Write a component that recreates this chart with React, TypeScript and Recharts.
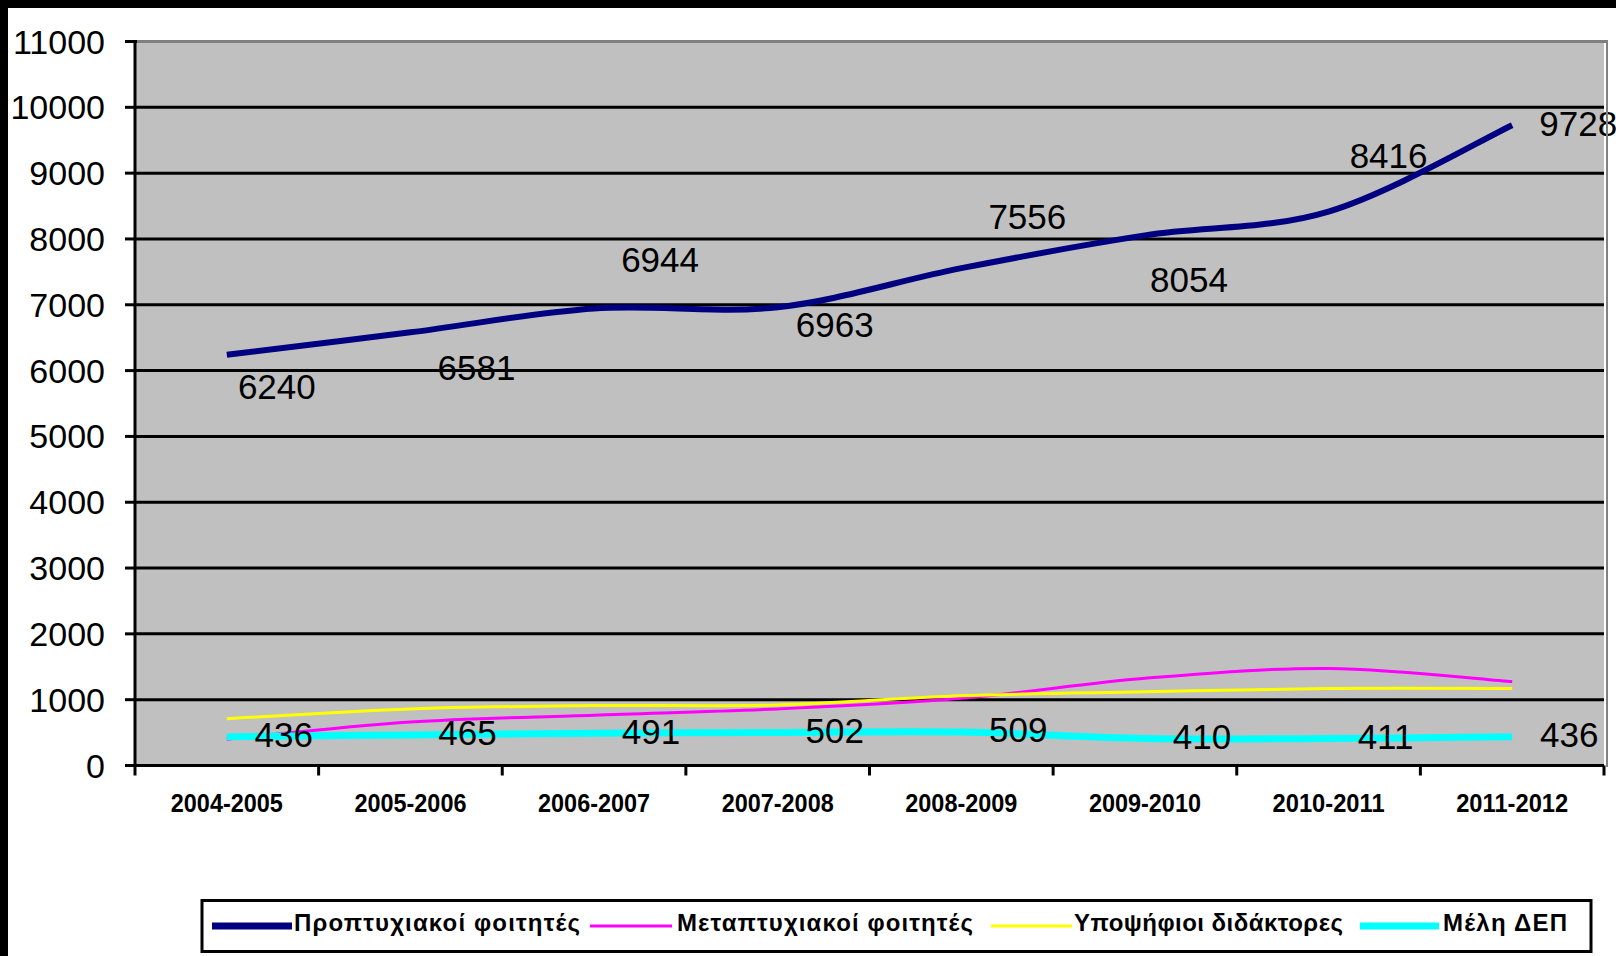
import React from 'react';
import { LineChart, Line, XAxis, YAxis, CartesianGrid, LabelList } from 'recharts';

// academic years on the category axis
const years = ['2004-2005', '2005-2006', '2006-2007', '2007-2008', '2008-2009', '2009-2010', '2010-2011', '2011-2012'];

// series values (undergrad + faculty read from the labels, the other two estimated from the lines)
const undergrad = [6240, 6581, 6944, 6963, 7556, 8054, 8416, 9728];
const postgrad = [400, 660, 765, 860, 1020, 1325, 1475, 1275];
const phdCandidates = [710, 860, 910, 920, 1060, 1120, 1170, 1170];
const faculty = [436, 465, 491, 502, 509, 410, 411, 436];

const yTicks = [0, 1000, 2000, 3000, 4000, 5000, 6000, 7000, 8000, 9000, 10000, 11000];

const seriesNames = ['Προπτυχιακοί φοιτητές', 'Μεταπτυχιακοί φοιτητές', 'Υποψήφιοι διδάκτορες', 'Μέλη ΔΕΠ'];

const data = years.map((year, i) => ({
  year,
  undergrad: undergrad[i],
  postgrad: postgrad[i],
  phd: phdCandidates[i],
  faculty: faculty[i],
}));

const FONT = '"Liberation Sans", Arial, sans-serif';
const W = 1616;
const H = 956;
const PLOT_LEFT = 135;
const PLOT_RIGHT = 1604;
const PLOT_TOP = 41.5;
const PLOT_BOTTOM = 765.5;
const BAND = (PLOT_RIGHT - PLOT_LEFT) / years.length;

// Excel-style smoothing (Catmull-Rom through every point), used as a d3 curve factory
function excelSmooth(context: any) {
  let pts: number[][] = [];
  return {
    areaStart() {},
    areaEnd() {},
    lineStart() { pts = []; },
    point(x: number, y: number) { pts.push([+x, +y]); },
    lineEnd() {
      if (!pts.length) return;
      context.moveTo(pts[0][0], pts[0][1]);
      for (let i = 0; i < pts.length - 1; i++) {
        const p0 = pts[i - 1] || pts[i];
        const p1 = pts[i];
        const p2 = pts[i + 1];
        const p3 = pts[i + 2] || p2;
        context.bezierCurveTo(
          p1[0] + (p2[0] - p0[0]) / 6, p1[1] + (p2[1] - p0[1]) / 6,
          p2[0] - (p3[0] - p1[0]) / 6, p2[1] - (p3[1] - p1[1]) / 6,
          p2[0], p2[1],
        );
      }
    },
  };
}

// where each undergrad label sits relative to its point (Excel put them around oddly)
const NAVY_LABEL_OFFSETS = [
  [50, 32], [66, 35], [66, -49], [57, 17], [66, -52], [44, 44], [60, -56], [66, -2],
];

const NavyLabel = (props: any) => {
  const { x, y, value, index } = props;
  const [dx, dy] = NAVY_LABEL_OFFSETS[index] || [60, 0];
  return (
    <text x={x + dx} y={y + dy} textAnchor="middle" dominantBaseline="central"
      fontSize={35} fill="#000" fontFamily={FONT}>
      {value}
    </text>
  );
};

const CyanLabel = (props: any) => {
  const { x, y, value } = props;
  return (
    <text x={x + 57} y={y - 2} textAnchor="middle" dominantBaseline="central"
      fontSize={35} fill="#000" fontFamily={FONT}>
      {value}
    </text>
  );
};

// tick marks sit between categories, labels at the centre
const XTick = (props: any) => {
  const { x, payload, index } = props;
  const edge = x + BAND / 2;
  return (
    <g>
      {index === 0 && (
        <line x1={x - BAND / 2} x2={x - BAND / 2} y1={PLOT_BOTTOM} y2={PLOT_BOTTOM + 10} stroke="#000" strokeWidth={3} />
      )}
      <line x1={edge} x2={edge} y1={PLOT_BOTTOM} y2={PLOT_BOTTOM + 10} stroke="#000" strokeWidth={3} />
      <text x={x} y={PLOT_BOTTOM + 46} textAnchor="middle" fontSize={26} fontWeight="bold"
        fill="#000" fontFamily={FONT} textLength={112} lengthAdjust="spacingAndGlyphs">
        {payload.value}
      </text>
    </g>
  );
};

const legendItems = [
  { name: seriesNames[0], color: '#000080', width: 7, x1: 212, x2: 292, tx: 294, tl: 286 },
  { name: seriesNames[1], color: '#FF00FF', width: 3, x1: 590, x2: 672, tx: 677, tl: 296 },
  { name: seriesNames[2], color: '#FFFF00', width: 3, x1: 991, x2: 1072, tx: 1074, tl: 269 },
  { name: seriesNames[3], color: '#00FFFF', width: 7, x1: 1360, x2: 1439, tx: 1443, tl: 124 },
];

function LegendBox() {
  return (
    <svg width={W} height={H} style={{ position: 'absolute', left: 0, top: 0, pointerEvents: 'none' }}>
      <rect x={202} y={900.5} width={1389} height={51} fill="#fff" stroke="#000" strokeWidth={3} />
      {legendItems.map(item => (
        <g key={item.name}>
          <line x1={item.x1} x2={item.x2} y1={926} y2={926} stroke={item.color} strokeWidth={item.width} />
          <text x={item.tx} y={931} fontSize={24} fontWeight="bold" fill="#000" fontFamily={FONT}
            textLength={item.tl} lengthAdjust="spacing">
            {item.name}
          </text>
        </g>
      ))}
    </svg>
  );
}

export default function App() {
  return (
    <div style={{ position: 'absolute', left: 0, top: 0, width: W, height: H, background: '#fff', overflow: 'hidden' }}>
      <LineChart width={W} height={H} data={data}
        margin={{ top: PLOT_TOP, right: W - PLOT_RIGHT, left: 0, bottom: H - PLOT_BOTTOM - 60 }}>
        <CartesianGrid vertical={false} horizontal fill="#C0C0C0" stroke="#000" strokeWidth={3} />
        <XAxis dataKey="year" scale="band" height={60} axisLine={{ stroke: '#000', strokeWidth: 3 }}
          tickLine={false} tick={<XTick />} interval={0} />
        <YAxis width={PLOT_LEFT} domain={[0, 11000]} ticks={yTicks} interval={0}
          axisLine={{ stroke: '#000', strokeWidth: 3 }} tickLine={{ stroke: '#000', strokeWidth: 3 }}
          tickSize={10} tickMargin={20}
          tick={{ fontSize: 34, fill: '#000', fontFamily: FONT }} />
        <Line dataKey="undergrad" type={excelSmooth as any} stroke="#000080" strokeWidth={6} dot={false}
          activeDot={false} isAnimationActive={false}>
          <LabelList dataKey="undergrad" content={<NavyLabel />} />
        </Line>
        <Line dataKey="postgrad" type={excelSmooth as any} stroke="#FF00FF" strokeWidth={3} dot={false}
          activeDot={false} isAnimationActive={false} />
        <Line dataKey="phd" type={excelSmooth as any} stroke="#FFFF00" strokeWidth={3} dot={false}
          activeDot={false} isAnimationActive={false} />
        <Line dataKey="faculty" type={excelSmooth as any} stroke="#00FFFF" strokeWidth={7} dot={false}
          activeDot={false} isAnimationActive={false}>
          <LabelList dataKey="faculty" content={<CyanLabel />} />
        </Line>
      </LineChart>
      {/* grey plot border on top and right */}
      <div style={{
        position: 'absolute', left: PLOT_LEFT + 2, top: PLOT_TOP - 1.5, width: PLOT_RIGHT - PLOT_LEFT,
        height: PLOT_BOTTOM - PLOT_TOP, borderTop: '3px solid #808080', borderRight: '2px solid #808080',
        pointerEvents: 'none',
      }} />
      <LegendBox />
      {/* slide frame */}
      <div style={{ position: 'absolute', left: 0, top: 0, width: W, height: 8, background: '#000' }} />
      <div style={{ position: 'absolute', left: 0, top: 0, width: 8, height: H, background: '#000' }} />
    </div>
  );
}
